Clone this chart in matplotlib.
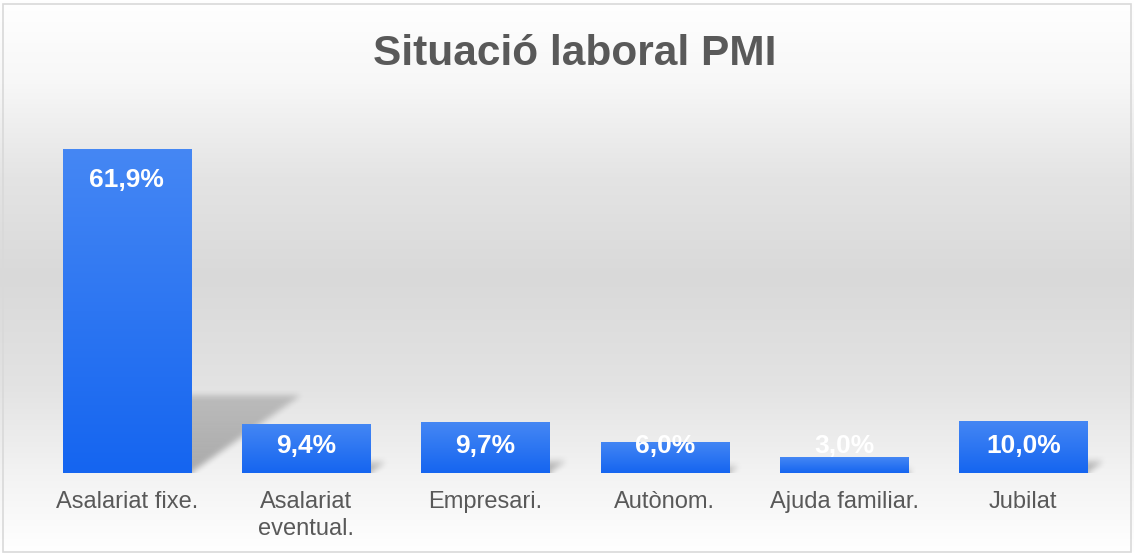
import numpy as np
import matplotlib
matplotlib.use("Agg")
from matplotlib import pyplot as plt
from matplotlib.colors import LinearSegmentedColormap
from matplotlib.patches import Rectangle

categorias = ['Asalariat fixe.', 'Asalariat\neventual.', 'Empresari.', 'Autònom.',
              'Ajuda familiar.', 'Jubilat']
valores = [61.9, 9.4, 9.7, 6.0, 3.0, 10.0]
etiquetas = ['61,9%', '9,4%', '9,7%', '6,0%', '3,0%', '10,0%']

plt.rcParams['font.family'] = ['Liberation Sans', 'DejaVu Sans']

fig = plt.figure(figsize=(11.34, 5.53), dpi=100)

# fondo degradado de toda la figura
fondo = fig.add_axes([0, 0, 1, 1], zorder=0)
paradas = [(0.0, '#ffffff'), (0.15, '#f7f7f7'), (0.32, '#e4e4e4'), (0.5, '#d9d9d9'),
           (0.7, '#e3e3e3'), (0.86, '#f3f3f3'), (1.0, '#ffffff')]
cmap_fondo = LinearSegmentedColormap.from_list('fondo', paradas)
fondo.imshow(np.linspace(0, 1, 256).reshape(-1, 1), cmap=cmap_fondo, aspect='auto',
             extent=[0, 1, 0, 1], origin='upper')
fondo.set_xlim(0, 1)
fondo.set_ylim(0, 1)
fondo.axis('off')
fondo.add_patch(Rectangle((0.003, 0.002), 0.994, 0.99, fill=False, ec='#d9d9d9', lw=1.2))

ax = fig.add_axes([0.0326, 0.1447, 0.9489, 0.6618], zorder=1)
ax.patch.set_alpha(0)

x = np.arange(len(categorias))
ancho = 0.714
barras = ax.bar(x, valores, width=ancho, color='none', zorder=3)

cmap_barra = LinearSegmentedColormap.from_list('barra', ['#1565f0', '#4587f4'])
grad = np.linspace(0, 1, 128).reshape(-1, 1)

px_x = 179.3  # pixeles por unidad x (aprox.)
px_y = 5.23   # pixeles por unidad y (aprox.)


def difuminar(m, k):
    ker = np.ones(k) / k
    for _ in range(2):
        m = np.apply_along_axis(lambda r: np.convolve(r, ker, mode='same'), 1, m)
        m = np.apply_along_axis(lambda c: np.convolve(c, ker, mode='same'), 0, m)
    return m


for b, h in zip(barras, valores):
    x0 = b.get_x()
    x1 = x0 + b.get_width()
    # sombra difuminada (raster)
    dx = 0.00988 * h
    hs = 0.24 * h
    marg = 14 / px_x
    ex0, ex1 = x0, x1 + dx + marg
    ey1 = hs + 14 / px_y
    nx = int((ex1 - ex0) * px_x)
    ny = int(ey1 * px_y)
    gx = np.linspace(ex0, ex1, nx)
    gy = np.linspace(0, ey1, ny)
    X, Y = np.meshgrid(gx, gy)
    t = Y / hs
    mask = ((Y <= hs) & (X >= x0 + dx * t) & (X <= x1 + dx * t)).astype(float)
    mask = difuminar(np.pad(mask, ((8, 8), (0, 0)), mode='edge'), 7)[8:-8]
    alpha = mask * (0.3 - 0.12 * np.clip(t, 0, 1))
    rgba = np.zeros((ny, nx, 4))
    rgba[..., 3] = alpha
    ax.imshow(rgba, extent=[ex0, ex1, 0, ey1], aspect='auto', origin='lower',
              zorder=2, interpolation='bilinear')
    im = ax.imshow(grad, cmap=cmap_barra, extent=[x0, x1, 0, h], aspect='auto',
                   origin='lower', zorder=3)
    im.set_clip_path(b)

for xi, h, t in zip(x, valores, etiquetas):
    ax.text(xi, max(h - 5.9, 5.2), t, ha='center', va='center', color='white',
            fontsize=19, fontweight='bold', zorder=5)

ax.set_xlim(-0.5, len(categorias) - 0.5)
ax.set_ylim(0, 70)
ax.set_xticks(x)
ax.set_xticklabels(categorias, fontsize=17, color='#595959', linespacing=1.3)
ax.tick_params(axis='x', length=0, pad=13)
ax.set_yticks([])
for sp in ax.spines.values():
    sp.set_visible(False)

fig.text(0.507, 0.903, 'Situació laboral PMI', ha='center', va='center',
         fontsize=30.5, fontweight='bold', color='#595959')

fig.savefig('out.png', dpi=100)
